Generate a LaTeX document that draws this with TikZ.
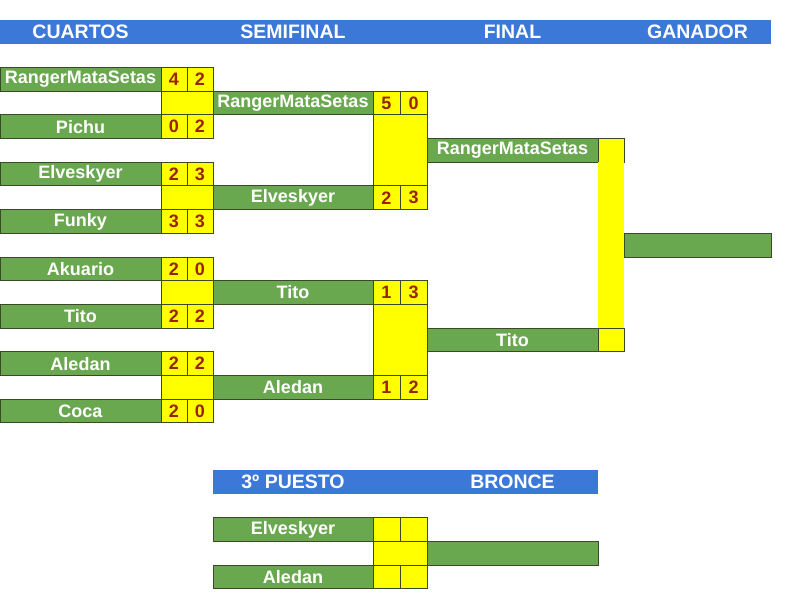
\documentclass[tikz,border=0pt]{standalone}
\usepackage{fontspec}
\setmainfont{Liberation Sans}
\usetikzlibrary{positioning, calc}

\definecolor{cellgreen}{HTML}{6AA84F}
\definecolor{barblue}{HTML}{3C78D8}
\definecolor{cellyellow}{HTML}{FFFF00}
\definecolor{scorered}{HTML}{992200}
\definecolor{edgedark}{HTML}{3B4A26}

\begin{document}
\begin{tikzpicture}[
    x=1pt, y=-1pt,
    font=\bfseries\fontsize{18}{20}\selectfont,
    cell/.style={draw=edgedark, line width=0.9pt, inner sep=0pt, outer sep=0pt, minimum height=23.7pt},
    player/.style={cell, fill=cellgreen, text=white},
    score/.style={cell, fill=cellyellow, text=scorered, minimum width=26pt},
    bar/.style={fill=barblue, inner sep=0pt, outer sep=0pt, minimum height=23.7pt, anchor=north west},
    bartext/.style={text=white, font=\bfseries\fontsize{19.5}{20}\selectfont},
    gapfill/.style={fill=cellyellow, draw=edgedark, line width=0.9pt},
    node distance=0pt,
]
\useasboundingbox (0,0) rectangle (800,608);

% --- HEADER ---
\node[bar, minimum width=771pt] (top) at (0,20) {};

% --- CUARTOS ---
\node[player, minimum width=161pt, anchor=north west] (q1) at (0,67.4) {RangerMataSetas};
\node[player, minimum width=161pt, below=23.7pt of q1] (q2) {Pichu};
\node[player, minimum width=161pt, below=23.7pt of q2] (q3) {Elveskyer};
\node[player, minimum width=161pt, below=23.7pt of q3] (q4) {Funky};
\node[player, minimum width=161pt, below=23.7pt of q4] (q5) {Akuario};
\node[player, minimum width=161pt, below=23.7pt of q5] (q6) {Tito};
\node[player, minimum width=161pt, below=23.7pt of q6] (q7) {Aledan};
\node[player, minimum width=161pt, below=23.7pt of q7] (q8) {Coca};

\node[score, right=of q1] (q1a) {4}; \node[score, right=of q1a] (q1b) {2};
\node[score, right=of q2] (q2a) {0}; \node[score, right=of q2a] (q2b) {2};
\node[score, right=of q3] (q3a) {2}; \node[score, right=of q3a] (q3b) {3};
\node[score, right=of q4] (q4a) {3}; \node[score, right=of q4a] (q4b) {3};
\node[score, right=of q5] (q5a) {2}; \node[score, right=of q5a] (q5b) {0};
\node[score, right=of q6] (q6a) {2}; \node[score, right=of q6a] (q6b) {2};
\node[score, right=of q7] (q7a) {2}; \node[score, right=of q7a] (q7b) {2};
\node[score, right=of q8] (q8a) {2}; \node[score, right=of q8a] (q8b) {0};

\draw[gapfill] (q1a.south west) rectangle (q2b.north east);
\draw[gapfill] (q3a.south west) rectangle (q4b.north east);
\draw[gapfill] (q5a.south west) rectangle (q6b.north east);
\draw[gapfill] (q7a.south west) rectangle (q8b.north east);

% --- SEMIFINAL ---
\node[player, minimum width=160pt, anchor=north west] (s1) at (q1b.south east) {RangerMataSetas};
\node[player, minimum width=160pt, anchor=north west] (s2) at (q3b.south east) {Elveskyer};
\node[player, minimum width=160pt, anchor=north west] (s3) at (q5b.south east) {Tito};
\node[player, minimum width=160pt, anchor=north west] (s4) at (q7b.south east) {Aledan};

\node[score, minimum width=27pt, right=of s1] (s1a) {5}; \node[score, minimum width=27pt, right=of s1a] (s1b) {0};
\node[score, minimum width=27pt, right=of s2] (s2a) {2}; \node[score, minimum width=27pt, right=of s2a] (s2b) {3};
\node[score, minimum width=27pt, right=of s3] (s3a) {1}; \node[score, minimum width=27pt, right=of s3a] (s3b) {3};
\node[score, minimum width=27pt, right=of s4] (s4a) {1}; \node[score, minimum width=27pt, right=of s4a] (s4b) {2};

\draw[gapfill] (s1a.south west) rectangle (s2b.north east);
\draw[gapfill] (s3a.south west) rectangle (s4b.north east);

% --- FINAL + GANADOR ---
\node[player, minimum width=171pt, below right=23.7pt and 0pt of s1b.south east] (f1) {RangerMataSetas};
\node[player, minimum width=171pt, below right=23.7pt and 0pt of s3b.south east] (f2) {Tito};
\node[score, right=of f1] (f1s) {};
\node[score, right=of f2] (f2s) {};
\fill[cellyellow] (f1s.south west) rectangle (f2s.north east);

\node[player, minimum width=147pt, anchor=west] (win) at ($(f1s.east)!0.5!(f2s.east)$) {};

% --- 3º PUESTO ---
\node[bar, minimum width=385pt, below right=47.4pt and 0pt of q8b.south east] (bot) {};
\node[player, minimum width=160pt, below right=23.7pt and 0pt of bot.south west] (b1) {Elveskyer};
\node[player, minimum width=160pt, below=23.7pt of b1] (b2) {Aledan};
\node[score, minimum width=27pt, right=of b1] (b1a) {}; \node[score, minimum width=27pt, right=of b1a] (b1b) {};
\node[score, minimum width=27pt, right=of b2] (b2a) {}; \node[score, minimum width=27pt, right=of b2a] (b2b) {};
\draw[gapfill] (b1a.south west) rectangle (b2b.north east);
\node[player, minimum width=171pt, anchor=north west] (bwin) at (b1b.south east) {};

% header labels
\node[bartext] at (q1 |- top) {CUARTOS};
\node[bartext] at (s1 |- top) {SEMIFINAL};
\node[bartext] at (f1 |- top) {FINAL};
\node[bartext] at (win |- top) {GANADOR};
\node[bartext] at (b1 |- bot) {3º PUESTO};
\node[bartext] at (bwin |- bot) {BRONCE};

\end{tikzpicture}
\end{document}
